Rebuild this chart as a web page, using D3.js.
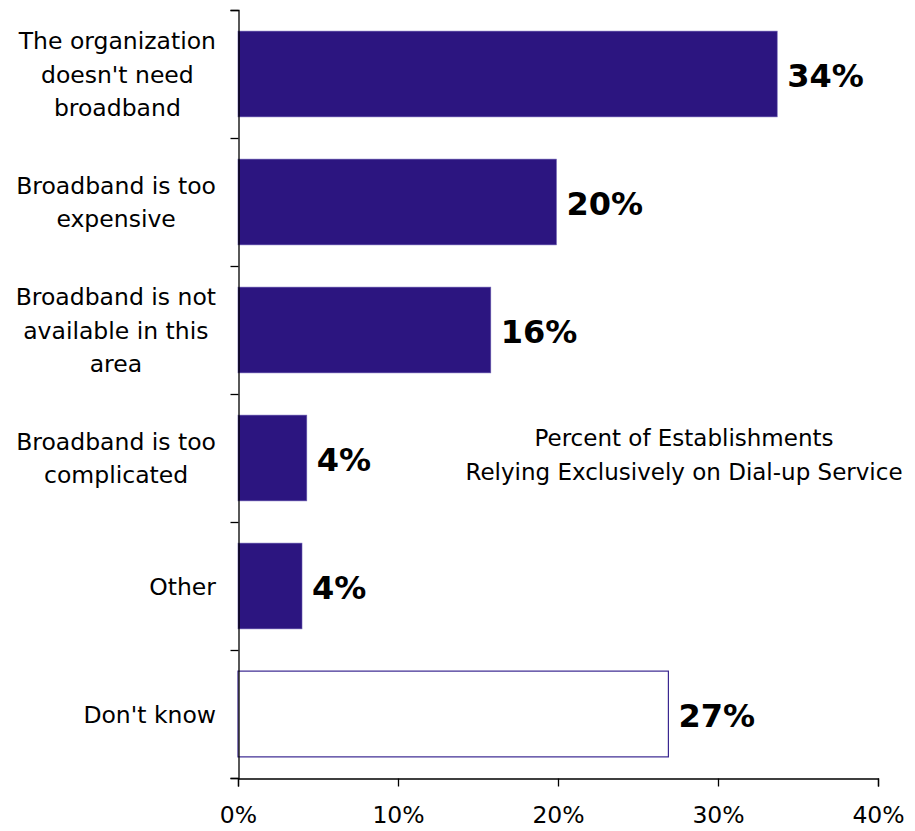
<!DOCTYPE html>
<html>
<head>
<meta charset="utf-8">
<script src="https://cdn.jsdelivr.net/npm/d3@7"></script>
<style>
  html, body { margin: 0; padding: 0; background: #fff; }
  svg { display: block; font-family: "DejaVu Sans", sans-serif; }
</style>
</head>
<body>
<svg id="chart" width="915" height="831"></svg>
<script>
// Reasons for relying on dial-up (share of establishments)
const categories = [
  ["The organization", "doesn't need", "broadband"],
  ["Broadband is too", "expensive"],
  ["Broadband is not", "available in this", "area"],
  ["Broadband is too", "complicated"],
  ["Other"],
  ["Don't know"]
];
const values = [33.7, 19.9, 15.8, 4.3, 4.0, 26.9];
const hollow = [false, false, false, false, false, true];
const xTicks = [0, 10, 20, 30, 40];
const noteLines = ["Percent of Establishments", "Relying Exclusively on Dial-up Service"];

const svg = d3.select("#chart");
const plotLeft = 238, plotRight = 878, plotTop = 10, plotBottom = 778;

const x = d3.scaleLinear().domain([0, 40]).range([plotLeft, plotRight]);
const y = d3.scaleBand().domain(d3.range(categories.length)).range([plotTop, plotBottom])
  .paddingInner(0.33).paddingOuter(0.165);
const yEdges = d3.scaleLinear().domain([0, categories.length]).range([plotTop, plotBottom]);

// Bars
svg.append("g").selectAll("rect").data(values).join("rect")
  .attr("x", x(0))
  .attr("y", (d, i) => y(i))
  .attr("width", d => x(d) - x(0))
  .attr("height", y.bandwidth())
  .attr("fill", (d, i) => hollow[i] ? "#fff" : "#2c1580")
  .attr("stroke", (d, i) => hollow[i] ? "#3a2790" : "#6a5cb0")
  .attr("stroke-width", (d, i) => hollow[i] ? 1.2 : 0.6);

// Value labels
svg.append("g").selectAll("text").data(values).join("text")
  .attr("x", d => x(d) + 10)
  .attr("y", (d, i) => y(i) + y.bandwidth() / 2 + 12.5)
  .attr("font-size", 32)
  .attr("font-weight", "bold")
  .attr("fill", "#000")
  .text(d => Math.round(d) + "%");

// X axis
const xAxis = svg.append("g")
  .attr("transform", `translate(0,${plotBottom + 0.5})`)
  .call(d3.axisBottom(x).tickValues(xTicks).tickFormat(d => d + "%").tickSize(8).tickPadding(20));
xAxis.select(".domain").attr("stroke", "#000").attr("stroke-width", 1.3);
xAxis.selectAll(".tick line").attr("stroke", "#000").attr("stroke-width", 1.3);
xAxis.selectAll(".tick text").attr("font-size", 23.5).attr("font-family", "DejaVu Sans, sans-serif").attr("fill", "#000");

// Y axis line with ticks at category boundaries
const yAxis = svg.append("g")
  .attr("transform", `translate(${plotLeft + 0.5},0)`)
  .call(d3.axisLeft(yEdges).tickValues(d3.range(categories.length + 1)).tickFormat("").tickSize(8));
yAxis.select(".domain").attr("stroke", "#000").attr("stroke-width", 1.3);
yAxis.selectAll(".tick line").attr("stroke", "#000").attr("stroke-width", 1.3);

// Category labels: lines centred within a block that is right-aligned to the axis
const lineH = 33.5;
const labelRight = 216;
categories.forEach((lines, i) => {
  const g = svg.append("g");
  const texts = lines.map(t => g.append("text").attr("font-size", 23.5).attr("fill", "#000")
    .attr("text-anchor", "middle").text(t));
  const w = d3.max(texts, t => t.node().getComputedTextLength());
  const cx = labelRight - w / 2;
  const cy = y(i) + y.bandwidth() / 2;
  texts.forEach((t, k) => {
    t.attr("x", cx).attr("y", cy + (k - (lines.length - 1) / 2) * lineH + 8.5);
  });
});

// Note
svg.append("g").selectAll("text").data(noteLines).join("text")
  .attr("x", 684)
  .attr("y", (d, i) => 446 + i * 33.5)
  .attr("text-anchor", "middle")
  .attr("font-size", 23)
  .attr("fill", "#000")
  .text(d => d);
</script>
</body>
</html>
